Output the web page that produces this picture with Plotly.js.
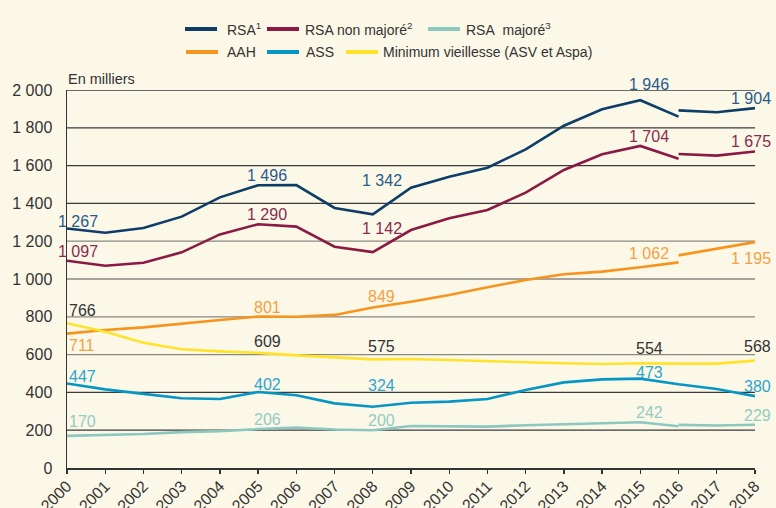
<!DOCTYPE html>
<html>
<head>
<meta charset="utf-8">
<script src="https://cdn.plot.ly/plotly-3.0.1.min.js"></script>
<style>
  html, body { margin: 0; padding: 0; background: #fcf8e8; }
  #chart { width: 776px; height: 508px; }
</style>
</head>
<body>
<div id="chart"></div>
<script>
// ---------- DATA ----------
const yearsOld = [2000,2001,2002,2003,2004,2005,2006,2007,2008,2009,2010,2011,2012,2013,2014,2015,2016];
const yearsNew = [2016,2017,2018];
const yearsAll = [2000,2001,2002,2003,2004,2005,2006,2007,2008,2009,2010,2011,2012,2013,2014,2015,2016,2017,2018];

const rsaOld   = [1267,1245,1270,1330,1432,1496,1497,1376,1342,1483,1541,1589,1686,1811,1898,1946,1859];
const rsaNew   = [1892,1882,1904];
const rsaNmOld = [1097,1070,1086,1141,1236,1290,1277,1171,1142,1259,1321,1365,1457,1577,1660,1704,1636];
const rsaNmNew = [1661,1653,1675];
const rsaMOld  = [170,175,180,190,195,206,214,204,200,222,222,219,226,232,238,242,221];
const rsaMNew  = [228,225,229];
const aahOld   = [711,730,744,765,783,801,800,810,849,880,915,956,995,1025,1039,1062,1088];
const aahNew   = [1125,1160,1195];
const assAll   = [447,416,392,369,365,402,385,342,324,345,351,365,413,453,469,473,443,418,380];
const mvAll    = [766,721,663,628,617,609,596,584,575,577,571,566,557,554,550,554,552,552,568];

const labelYears = [2000,2005,2008,2015,2018];

const seriesNames = ["RSA<sup>1</sup>", "RSA non majoré<sup>2</sup>", "RSA\u00a0 majoré<sup>3</sup>",
                     "AAH", "ASS", "Minimum vieillesse (ASV et Aspa)"];

const yTickVals = [0,200,400,600,800,1000,1200,1400,1600,1800,2000];
const yTickText = ["0","200","400","600","800","1 000","1 200","1 400","1 600","1 800","2 000"];

// ---------- STYLE ----------
const FONT = "Liberation Sans, Arial, Helvetica, sans-serif";
const series = [
  {key:"rsa",  name:seriesNames[0], color:"#0e3d68", label:"#2a5a8c", x1:yearsOld, y1:rsaOld,   x2:yearsNew, y2:rsaNew},
  {key:"nm",   name:seriesNames[1], color:"#8a1a44", label:"#8a2a50", x1:yearsOld, y1:rsaNmOld, x2:yearsNew, y2:rsaNmNew},
  {key:"maj",  name:seriesNames[2], color:"#8cc7c0", label:"#93cbc4", x1:yearsOld, y1:rsaMOld,  x2:yearsNew, y2:rsaMNew},
  {key:"aah",  name:seriesNames[3], color:"#f7941d", label:"#f5a043", x1:yearsOld, y1:aahOld,   x2:yearsNew, y2:aahNew},
  {key:"ass",  name:seriesNames[4], color:"#0696c4", label:"#2ea5cf", x1:yearsAll, y1:assAll},
  {key:"mv",   name:seriesNames[5], color:"#ffe32a", label:"#333333", x1:yearsAll, y1:mvAll}
];

const traces = [];
series.forEach(s => {
  traces.push({x:s.x1, y:s.y1, type:"scatter", mode:"lines", showlegend:false, cliponaxis:false,
               line:{color:s.color, width:2.6}, hoverinfo:"x+y"});
  if (s.x2) traces.push({x:s.x2, y:s.y2, type:"scatter", mode:"lines", showlegend:false, cliponaxis:false,
               line:{color:s.color, width:2.6}, hoverinfo:"x+y"});
});

function fmt(v){ return String(v).replace(/\B(?=(\d{3})+(?!\d))/g, " "); }
function valueAt(s, yr){
  if (s.x2 && yr > 2016) return s.y2[s.x2.indexOf(yr)];
  return s.y1[s.x1.indexOf(yr)];
}

// label lift above point (px, baseline), or negative = below
const lift = {"rsa|2008":28, "nm|2008":18, "ass|2008":16, "rsa|2015":10, "aah|2015":8,
              "mv|2000":7,"mv|2005":6,"mv|2008":7,"mv|2015":9,"mv|2018":9,"maj|2000":9,"aah|2008":6,
              "aah|2000":-6, "aah|2018":-10, "ass|2015":1, "rsa|2000":2, "ass|2000":2, "ass|2005":2};

const annotations = [];
series.forEach(s => {
  labelYears.forEach(yr => {
    const v = valueAt(s, yr);
    const k = s.key + "|" + yr;
    const off = (k in lift) ? lift[k] : 4;
    const a = {x:yr, y:v, xref:"x", yref:"y", text:fmt(v), showarrow:false,
               font:{family:FONT, size:16, color:s.label}};
    if (off >= 0) { a.yanchor = "bottom"; a.yshift = off - 5; }
    else { a.yanchor = "top"; a.yshift = off + 4.5; }
    if (yr === 2000) { a.xanchor = "left"; a.xshift = v >= 1000 ? -11 : 0; }
    else if (yr === 2018) { a.xanchor = "right"; a.xshift = 18; }
    else { a.xanchor = "center"; a.xshift = 9; }
    annotations.push(a);
  });
});

// plot area pixel helpers
const L = 67, R = 755, T = 90, B = 468;
const px = p => (p - L) / (R - L);
const py = p => (B - p) / (B - T);

annotations.push({x:0, y:1, xref:"paper", yref:"paper", xanchor:"left", yanchor:"bottom",
  xshift:-1, yshift:1, text:"En milliers", showarrow:false, font:{family:FONT, size:14.5, color:"#333"}});

// manual legend
const legendItems = [
  {i:0, lx:185, tx:226, row:29},
  {i:1, lx:267, tx:304, row:29},
  {i:2, lx:428, tx:465, row:29},
  {i:3, lx:186, tx:226, row:52},
  {i:4, lx:267, tx:305, row:52},
  {i:5, lx:346, tx:382, row:52}
];
const shapes = [];
legendItems.forEach(it => {
  const s = series[it.i];
  shapes.push({type:"line", xref:"paper", yref:"paper", x0:px(it.lx), x1:px(it.lx+32),
               y0:py(it.row), y1:py(it.row), line:{color:s.color, width:4}});
  annotations.push({x:px(it.tx), y:py(it.row), xref:"paper", yref:"paper", xanchor:"left", yanchor:"middle",
                    xshift:-1, text:s.name, showarrow:false, font:{family:FONT, size:14, color:"#333"}});
});

// gridlines
yTickVals.forEach(v => {
  if (v === 0) return;
  const dark = (v >= 1400 || v <= 400);
  shapes.push({type:"line", xref:"paper", yref:"y", x0:0, x1:1, y0:v, y1:v, layer:"below",
               line:{color: dark ? "#3a3a3a" : "#8a8780", width: 1.3}});
});

const layout = {
  width:776, height:508,
  paper_bgcolor:"#fcf8e8", plot_bgcolor:"#fcf8e8",
  margin:{l:L, r:776-R, t:T, b:508-B, pad:0},
  showlegend:false,
  font:{family:FONT, color:"#333"},
  xaxis:{range:[2000,2018], tickvals:yearsAll, ticktext:yearsAll.map(String), tickangle:-45,
         showgrid:false, zeroline:false, showline:true, linecolor:"#333", linewidth:1.5,
         ticks:"outside", ticklen:4, tickcolor:"#333", tickwidth:1.3, ticklabelstandoff:-3,
         tickfont:{family:FONT, size:16, color:"#333"}, fixedrange:true, automargin:false},
  yaxis:{range:[0,2000], tickvals:yTickVals, ticktext:yTickText, showgrid:false, zeroline:false,
         showline:true, linecolor:"#333", linewidth:1.5, ticks:"", ticklabelstandoff:10,
         tickfont:{family:FONT, size:16, color:"#333"}, fixedrange:true, automargin:false},
  shapes:shapes,
  annotations:annotations
};

Plotly.newPlot("chart", traces, layout, {displayModeBar:false, staticPlot:true});
</script>
</body>
</html>
